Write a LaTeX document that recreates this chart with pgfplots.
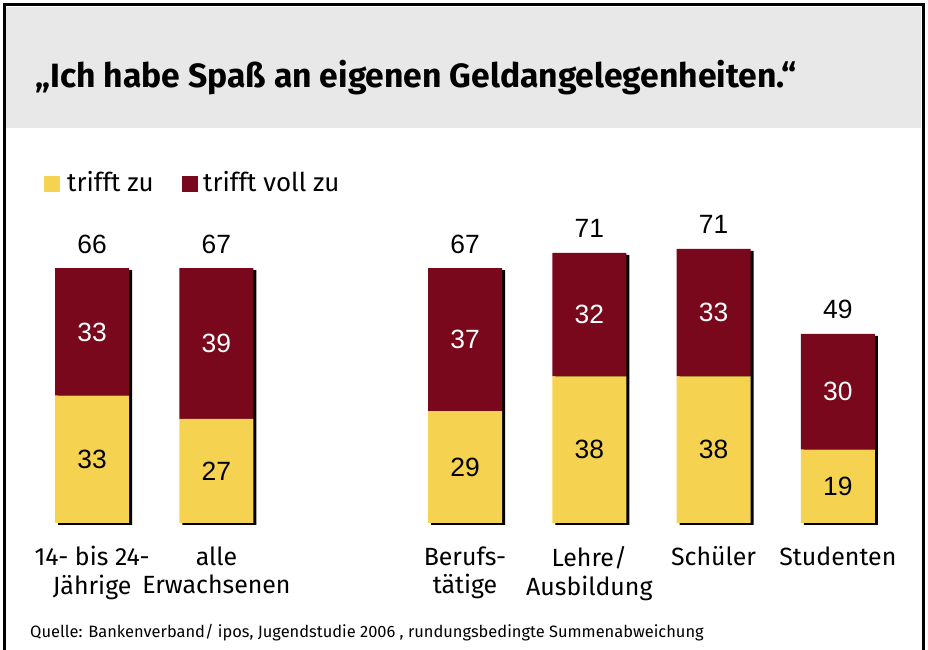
\documentclass[border=0pt]{standalone}
\usepackage{pgfplots}
\pgfplotsset{compat=1.18}
\usepackage{fontspec}
\setmainfont{Liberation Sans}
\newfontfamily\fira{Fira Sans}
\definecolor{gelb}{RGB}{245,211,80}
\definecolor{rot}{RGB}{122,8,29}
\definecolor{band}{RGB}{232,232,232}
\tikzset{
  num/.style={anchor=center, inner sep=0pt, font=\fontsize{26.5}{28}\selectfont},
  tot/.style={anchor=base, inner sep=0pt, yshift=15bp, font=\fontsize{26.5}{28}\selectfont},
}
\begin{document}
\begin{tikzpicture}[x=1bp,y=1bp]
\path[use as bounding box] (0,0) rectangle (928,650);
\fill[white] (0,0) rectangle (928,650);
\fill[band] (6,522) rectangle (921,643);
\draw[line width=3bp] (4.5,0) -- (4.5,645.5) -- (923.5,645.5) -- (923.5,0);
\node[anchor=base west, inner sep=0pt, font=\fira\bfseries\fontsize{33.8}{38}\selectfont] at (35,562) {„Ich habe Spaß an eigenen Geldangelegenheiten.“};
% legend
\fill[gelb] (44,458) rectangle (60,474);
\node[anchor=base west, inner sep=0pt, font=\fira\fontsize{26}{30}\selectfont] at (67,458) {trifft zu};
\fill[rot] (182,458) rectangle (198,474);
\node[anchor=base west, inner sep=0pt, font=\fira\fontsize{26}{30}\selectfont] at (203,458) {trifft voll zu};
% source
\node[anchor=base west, inner sep=0pt, font=\fira\fontsize{16.5}{18}\selectfont] at (30,12) {Quelle: Bankenverband/ ipos, Jugendstudie 2006 , rundungsbedingte Summenabweichung};
% shadow axis
\begin{axis}[at={(33bp,125bp)}, anchor=south west, scale only axis,
  width=870bp, height=308.8bp, xmin=-0.5, xmax=6.5, ymin=0, ymax=80,
  hide axis, ybar, bar width=74bp, clip=false]
\addplot[fill=black, draw=none] coordinates {(0,66) (1,66) (3,66) (4,70) (5,71) (6,49)};
\end{axis}
% main axis
\begin{axis}[at={(30bp,127bp)}, anchor=south west, scale only axis,
  width=870bp, height=308.8bp, xmin=-0.5, xmax=6.5, ymin=0, ymax=80,
  ybar stacked, bar width=74bp, clip=false,
  axis line style={draw=none}, major tick length=0pt, ytick=\empty,
  xtick={0,1,3,4,5,6},
  xticklabels={{14- bis 24-\\Jährige},{alle\\Erwachsenen},{Berufs-\\tätige},{Lehre/\\Ausbildung},{Schüler},{Studenten}},
  xticklabel style={font=\fira\fontsize{25}{28.5}\selectfont, align=center, anchor=north, yshift=-20bp},
]
\addplot[fill=gelb, draw=none] coordinates {(0,33) (1,27) (3,29) (4,38) (5,38) (6,19)};
\addplot[fill=rot, draw=none] coordinates {(0,33) (1,39) (3,37) (4,32) (5,33) (6,30)};
% anchor points for segment labels
\coordinate (y0) at (axis cs:0,16.5);
\coordinate (y1) at (axis cs:1,13.5);
\coordinate (y3) at (axis cs:3,14.5);
\coordinate (y4) at (axis cs:4,19);
\coordinate (y5) at (axis cs:5,19);
\coordinate (y6) at (axis cs:6,9.5);
\coordinate (r0) at (axis cs:0,49.5);
\coordinate (r1) at (axis cs:1,46.5);
\coordinate (r3) at (axis cs:3,47.5);
\coordinate (r4) at (axis cs:4,54);
\coordinate (r5) at (axis cs:5,54.5);
\coordinate (r6) at (axis cs:6,34);
% totals
\node[tot] at (axis cs:0,66) {66};
\node[tot] at (axis cs:1,66) {67};
\node[tot] at (axis cs:3,66) {67};
\node[tot] at (axis cs:4,70) {71};
\node[tot] at (axis cs:5,71) {71};
\node[tot] at (axis cs:6,49) {49};
\end{axis}
\node[num] at (y0) {33};
\node[num] at (y1) {27};
\node[num] at (y3) {29};
\node[num] at (y4) {38};
\node[num] at (y5) {38};
\node[num] at (y6) {19};
\node[num, text=white] at (r0) {33};
\node[num, text=white] at (r1) {39};
\node[num, text=white] at (r3) {37};
\node[num, text=white] at (r4) {32};
\node[num, text=white] at (r5) {33};
\node[num, text=white] at (r6) {30};
\end{tikzpicture}
\end{document}
